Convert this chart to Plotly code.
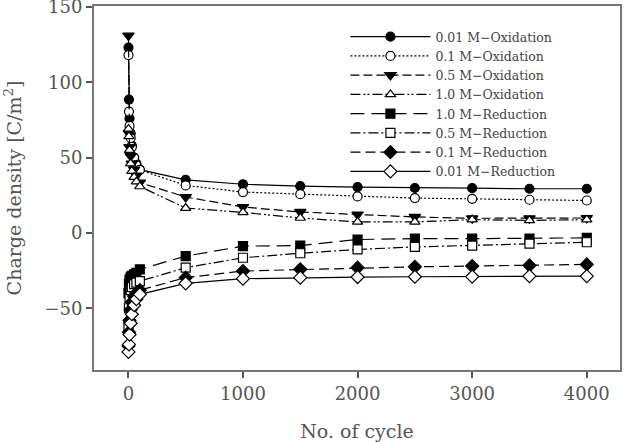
import plotly.graph_objects as go

cycles = [1, 5, 10, 20, 30, 50, 70, 100, 500, 1000, 1500, 2000, 2500, 3000, 3500, 4000]

ox_001 = [123, 88.5, 76, 66, 58, 50, 46, 42, 35.2, 32.3, 31.0, 30.4, 29.8, 29.7, 29.3, 29.3]
ox_01 = [118, 80.5, 71, 63, 57, 50, 45, 41.8, 31.5, 27.1, 25.7, 24.2, 23.1, 22.6, 22.0, 21.5]
ox_05 = [131, 66, 57, 51, 46, 42, 38, 33.4, 23.8, 17.2, 13.9, 12.2, 10.6, 9.7, 9.7, 9.9]
ox_10 = [69, 64, 55, 46, 41, 37, 34, 30.8, 16.5, 13.6, 9.9, 7.3, 7.3, 8.8, 8.3, 8.8]
red_10 = [-40, -34, -31, -29.5, -28.5, -27.5, -26.5, -24.2, -15.4, -8.8, -8.4, -4.4, -3.8, -3.8, -3.8, -3.3]
red_05 = [-62, -50, -43, -38, -36, -34, -33, -32, -23.1, -16.5, -13.5, -11.0, -9.3, -8.4, -7.1, -6.2]
red_01 = [-75, -66, -58, -51, -46, -42, -40, -38, -29.7, -25.3, -24.2, -23.1, -22.5, -22.0, -21.6, -20.9]
red_001 = [-79, -74, -67.5, -60, -54, -48, -44, -40.8, -33.5, -30.4, -29.7, -29.3, -29.1, -29.0, -28.7, -28.7]

names = ["0.01 M\u2212Oxidation", "0.1 M\u2212Oxidation", "0.5 M\u2212Oxidation", "1.0 M\u2212Oxidation",
         "1.0 M\u2212Reduction", "0.5 M\u2212Reduction", "0.1 M\u2212Reduction", "0.01 M\u2212Reduction"]
series = [ox_001, ox_01, ox_05, ox_10, red_10, red_05, red_01, red_001]
symbols = ["circle", "circle", "triangle-down", "triangle-up", "square", "square", "diamond", "diamond"]
fills = ["black", "white", "black", "white", "black", "white", "black", "white"]
dashes = ["solid", "2px,2px", "9px,4px", "10px,3px,2px,2px,2px,3px", "14px,7px", "10px,3px,2px,3px", "10px,5px", "solid"]
sizes = [9, 9, 10, 9, 9, 9, 10, 10]

fig = go.Figure()
for nm, ys, sym, fc, ds, sz in zip(names, series, symbols, fills, dashes, sizes):
    fig.add_trace(go.Scatter(
        x=cycles, y=ys, name=nm, mode="lines+markers",
        line=dict(color="black", width=1.2, dash=ds),
        marker=dict(symbol=sym, size=sz, color=fc, line=dict(color="black", width=1.2)),
    ))

font_family = "DejaVu Serif"
fig.update_layout(
    width=626, height=442,
    margin=dict(l=94, r=6, t=6, b=72),
    plot_bgcolor="white", paper_bgcolor="white",
    font=dict(family=font_family, color="#555", size=18),
    legend=dict(x=0.478, y=0.956, xanchor="left", yanchor="top",
                font=dict(size=12.5, color="#444", family=font_family),
                bgcolor="rgba(0,0,0,0)", itemwidth=80, tracegroupgap=0),
    xaxis=dict(range=[-300, 4290], tickvals=[0, 1000, 2000, 3000, 4000], automargin=False,
               showgrid=False, zeroline=False, showline=True, linecolor="#777", linewidth=2,
               mirror=True, ticks="outside", ticklen=6, tickcolor="#555", tickwidth=1.5,
               title=dict(text="No. of cycle", font=dict(size=19, color="#555"), standoff=22)),
    yaxis=dict(range=[-91, 150.6], tickvals=[-50, 0, 50, 100, 150], ticklabeloverflow="allow",
               automargin=False,
               showgrid=False, zeroline=False, showline=True, linecolor="#777", linewidth=2,
               mirror=True, ticks="outside", ticklen=6, tickcolor="#555", tickwidth=1.5,
               title=dict(text="Charge density [C/m<sup>2</sup>]", font=dict(size=19, color="#555"), standoff=18)),
)
fig.write_html("out.html")
